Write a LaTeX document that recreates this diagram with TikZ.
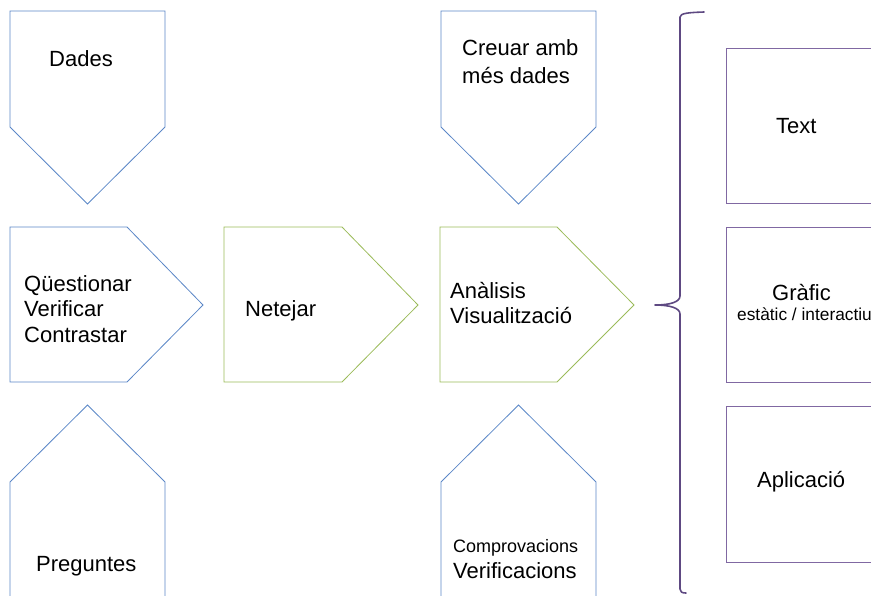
\documentclass[tikz,border=0pt]{standalone}
\usepackage{fontspec}
\setmainfont{Liberation Sans}
\definecolor{blueline}{RGB}{91,135,199}
\definecolor{greenline}{RGB}{155,187,89}
\definecolor{purpbox}{RGB}{128,104,162}
\definecolor{purpbrace}{RGB}{94,73,130}
\tikzset{
  blueshape/.style={draw=blueline,line width=0.8pt,fill=white},
  greenshape/.style={draw=greenline,line width=0.8pt,fill=white},
  purpshape/.style={draw=purpbox,line width=0.8pt,fill=white},
  bracestyle/.style={draw=purpbrace,line width=1.6pt,line cap=round,line join=round},
  lbl/.style={anchor=base west,inner sep=0pt,font=\fontsize{22}{25}\selectfont},
  smalllbl/.style={anchor=base west,inner sep=0pt,font=\fontsize{18}{21}\selectfont}
}
\begin{document}
\begin{tikzpicture}[x=1pt,y=-1pt]
\useasboundingbox (0,0) rectangle (871,595);
\clip (0,0) rectangle (871,595);
% top pentagons (pointing down)
\draw[blueshape] (10,11) -- (165,11) -- (165,127) -- (87.5,204) -- (10,127) -- cycle;
\draw[blueshape] (441,11) -- (596,11) -- (596,127) -- (518.5,204) -- (441,127) -- cycle;
% middle row (pointing right)
\draw[blueshape] (10,227) -- (127,227) -- (203,305) -- (127,382) -- (10,382) -- cycle;
\draw[greenshape] (224,227) -- (342,227) -- (418,305) -- (342,382) -- (224,382) -- cycle;
\draw[greenshape] (440,227) -- (557,227) -- (634,305) -- (557,382) -- (440,382) -- cycle;
% bottom pentagons (pointing up)
\draw[blueshape] (10,610) -- (10,482) -- (87.5,405) -- (165,482) -- (165,610);
\draw[blueshape] (441,610) -- (441,482) -- (518.5,405) -- (596,482) -- (596,610);
% right boxes
\draw[purpshape] (726,48) rectangle (900,203);
\draw[purpshape] (726,227) rectangle (900,382);
\draw[purpshape] (726,406) rectangle (900,562);
% brace
\draw[bracestyle] (704,12) .. controls (690,12.5) and (680,13) .. (680,17)
  -- (680,296) .. controls (680,302) and (670,305) .. (655,305)
  .. controls (670,305) and (680,308) .. (680,314)
  -- (680,589) .. controls (680,592) and (682,593) .. (686,593);
% labels
\node[lbl] (dades) at (49,66) {Dades};
\node[lbl] (creuar1) at (462,55) {Creuar amb};
\node[lbl] (creuar2) at (462,83) {més dades};
\node[lbl] (questionar) at (24,291) {Qüestionar};
\node[lbl] (verificar) at (24,316) {Verificar};
\node[lbl] (contrastar) at (24,342) {Contrastar};
\node[lbl] (netejar) at (245,316) {Netejar};
\node[lbl] (analisis) at (450,298) {Anàlisis};
\node[lbl] (visual) at (450,323) {Visualització};
\node[lbl] (preguntes) at (36,571) {Preguntes};
\node[smalllbl] (comprov) at (453,552) {Comprovacions};
\node[lbl] (verificacions) at (453,578) {Verificacions};
\node[lbl] (text) at (776,133) {Text};
\node[lbl] (grafic) at (772,300) {Gràfic};
\node[anchor=base west,inner sep=0pt,font=\fontsize{17.3}{20}\selectfont] (estatic) at (737,320) {estàtic / interactiu};
\node[lbl] (aplicacio) at (757,487) {Aplicació};
\end{tikzpicture}
\end{document}
